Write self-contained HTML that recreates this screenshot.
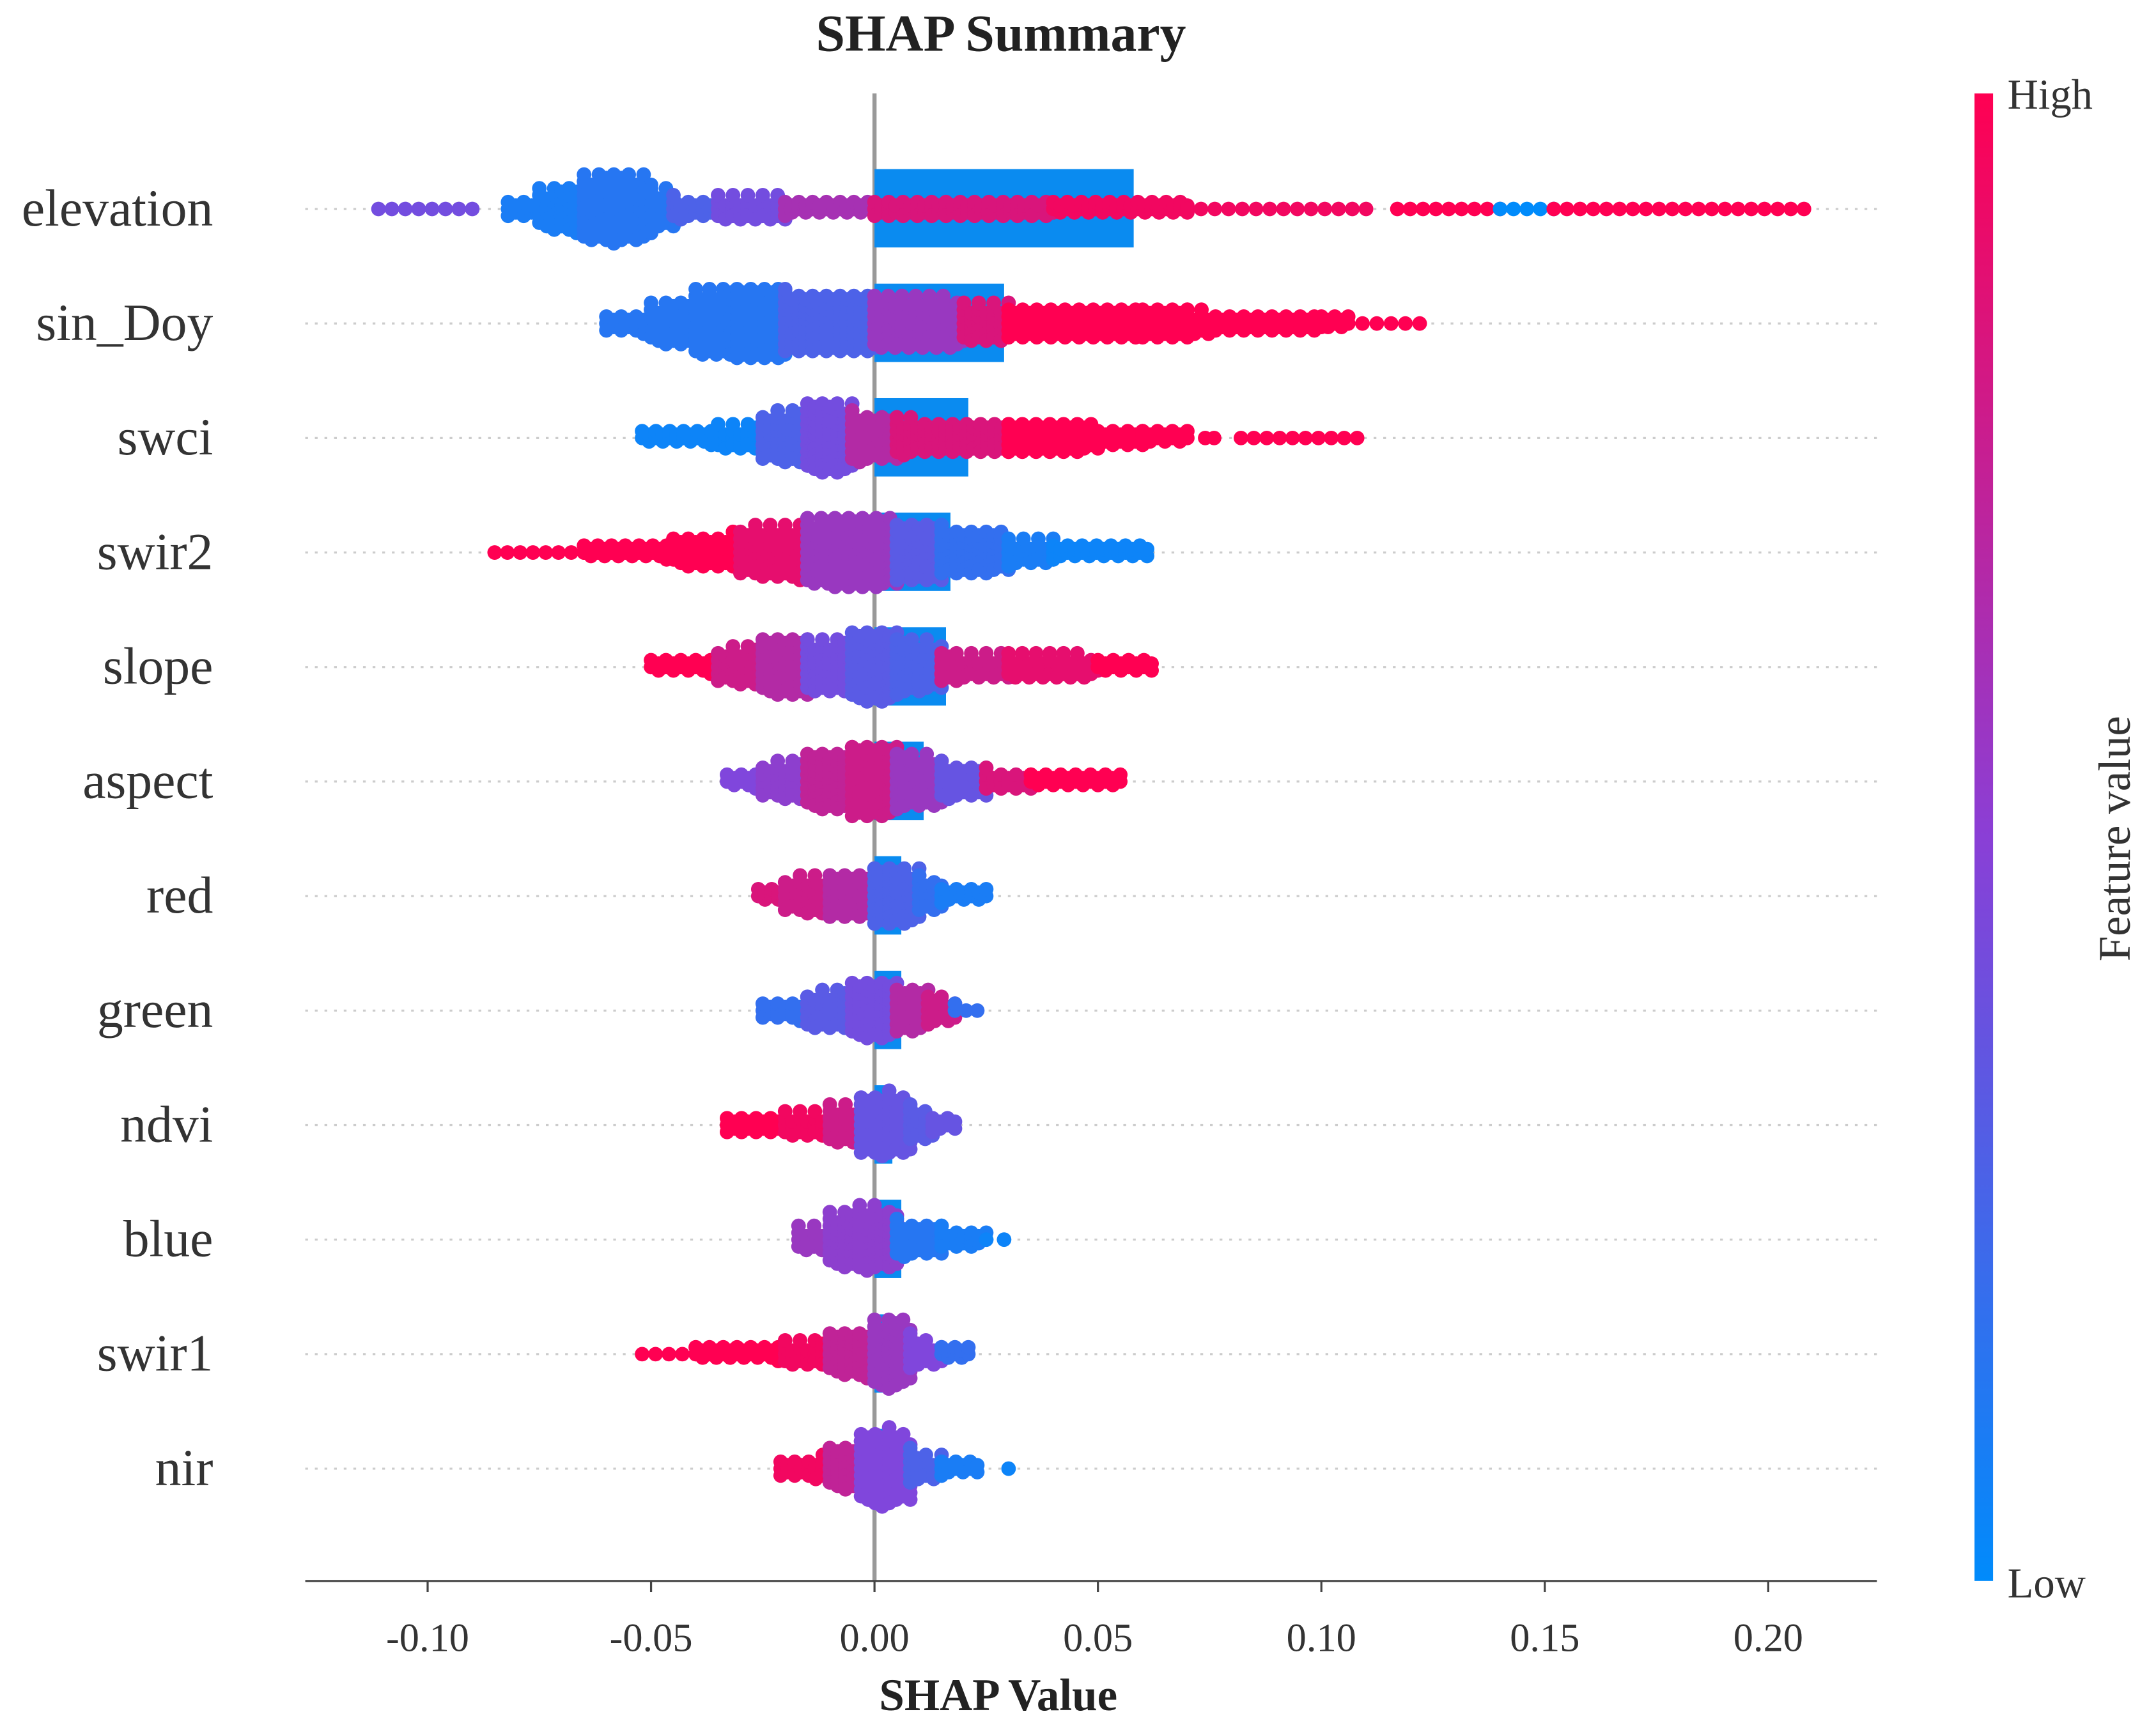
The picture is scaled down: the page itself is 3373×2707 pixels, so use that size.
<!DOCTYPE html>
<html><head><meta charset="utf-8"><style>
html,body{margin:0;padding:0;background:#fff;}
svg{display:block;}
text{font-family:"Liberation Serif",serif;fill:#333;}
</style></head><body>
<svg id="chart" width="3373" height="2707" viewBox="0 0 1568 1258.4" preserveAspectRatio="none" xmlns="http://www.w3.org/2000/svg">
<defs>
<linearGradient id="cbar" x1="0" y1="1" x2="0" y2="0">
<stop offset="0" stop-color="#008bfb"/>
<stop offset="0.5" stop-color="#8a3fd6"/>
<stop offset="1" stop-color="#ff0052"/>
</linearGradient>
</defs>
<text x="728" y="37" text-anchor="middle" font-size="38" font-weight="bold" style="fill:#222">SHAP Summary</text>
<g id="grid"></g>
<line x1="636" y1="68" x2="636" y2="1150" stroke="#999" stroke-width="3"/>
<g id="bars"></g>
<g id="dots"></g>
<g id="axis"></g>
<rect x="1436" y="68" width="13.5" height="1082" fill="url(#cbar)"/>
<text x="1460" y="79" font-size="31">High</text>
<text x="1460" y="1162" font-size="31">Low</text>
<text transform="translate(1549,610) rotate(-90)" text-anchor="middle" font-size="33">Feature value</text>
<text x="726" y="1244" text-anchor="middle" font-size="33" font-weight="bold" style="fill:#222">SHAP Value</text>
</svg>
<script>
const features = ["elevation","sin_Doy","swci","swir2","slope","aspect","red","green","ndvi","blue","swir1","nir"];
const meanAbs = [0.058,0.029,0.021,0.017,0.016,0.011,0.006,0.006,0.004,0.006,0.003,0.003];
const xTicks = [-0.10,-0.05,0.00,0.05,0.10,0.15,0.20];
const xTickLabels = ["-0.10","-0.05","0.00","0.05","0.10","0.15","0.20"];
// per-feature swarm segments: [from, to, layers, featureValue(0=low,1=high)]
const segElevation = [[-0.111,-0.090,1,0.45],[-0.082,-0.075,3,0.1],[-0.075,-0.065,7,0.1],[-0.065,-0.050,11,0.15],[-0.050,-0.045,6,0.15],[-0.045,-0.035,3,0.3],[-0.035,-0.020,4,0.45],[-0.020,0.000,2,0.65],[0.000,0.040,3,0.85],[0.040,0.070,2,0.95],[0.070,0.110,1,0.95],[0.117,0.140,1,1.0],[0.140,0.152,1,0.0],[0.152,0.208,1,1.0]];
const segSinDoy = [[-0.060,-0.050,3,0.15],[-0.050,-0.040,7,0.15],[-0.040,-0.020,11,0.15],[-0.020,0.000,9,0.3],[0.000,0.020,8,0.6],[0.020,0.030,6,0.85],[0.030,0.060,5,1.0],[0.060,0.070,5,1.0],[0.070,0.100,3,1.0],[0.100,0.106,2,1.0],[0.106,0.122,1,1.0]];
const segSwci = [[-0.052,-0.035,2,0.05],[-0.035,-0.025,4,0.05],[-0.025,-0.015,8,0.3],[-0.015,-0.005,11,0.45],[-0.005,0.005,7,0.7],[0.005,0.030,5,0.85],[0.030,0.050,5,1.0],[0.050,0.060,3,1.0],[0.060,0.070,2,1.0],[0.074,0.076,1,1.0],[0.082,0.108,1,1.0]];
const segSwir2 = [[-0.085,-0.065,1,1.0],[-0.065,-0.045,2,1.0],[-0.045,-0.030,5,1.0],[-0.030,-0.015,8,0.9],[-0.015,0.005,11,0.6],[0.005,0.015,9,0.35],[0.015,0.030,7,0.2],[0.030,0.040,4,0.1],[0.040,0.061,2,0.05]];
const segSlope = [[-0.050,-0.035,2,1.0],[-0.035,-0.025,6,0.8],[-0.025,-0.015,9,0.7],[-0.015,-0.005,8,0.45],[-0.005,0.005,11,0.35],[0.005,0.015,8,0.3],[0.015,0.030,4,0.8],[0.030,0.050,4,0.9],[0.050,0.062,2,1.0]];
const segAspect = [[-0.033,-0.025,2,0.5],[-0.025,-0.015,6,0.55],[-0.015,-0.005,9,0.75],[-0.005,0.005,11,0.8],[0.005,0.015,8,0.6],[0.015,0.025,5,0.4],[0.025,0.035,3,0.85],[0.035,0.055,2,1.0]];
const segRed = [[-0.026,-0.020,2,0.85],[-0.020,-0.010,6,0.8],[-0.010,0.000,7,0.7],[0.000,0.010,9,0.3],[0.010,0.015,5,0.2],[0.015,0.025,2,0.1]];
const segGreen = [[-0.025,-0.015,3,0.2],[-0.015,-0.005,6,0.35],[-0.005,0.005,9,0.45],[0.005,0.012,7,0.7],[0.012,0.018,4,0.8],[0.018,0.023,1,0.2]];
const segNdvi = [[-0.033,-0.020,3,1.0],[-0.020,-0.010,4,0.95],[-0.010,-0.003,6,0.8],[-0.003,0.008,10,0.4],[0.008,0.013,5,0.35],[0.013,0.018,2,0.4]];
const segBlue = [[-0.017,-0.010,4,0.6],[-0.010,0.005,10,0.55],[0.005,0.015,5,0.15],[0.015,0.025,3,0.1],[0.025,0.029,1,0.05]];
const segSwir1 = [[-0.052,-0.040,1,1.0],[-0.040,-0.020,2,1.0],[-0.020,-0.010,4,0.95],[-0.010,0.000,7,0.75],[0.000,0.008,11,0.6],[0.008,0.015,4,0.5],[0.015,0.021,2,0.2]];
const segNir = [[-0.021,-0.010,3,0.95],[-0.010,-0.003,7,0.75],[-0.003,0.008,12,0.5],[0.008,0.015,4,0.3],[0.015,0.023,2,0.1],[0.030,0.030,1,0.05]];
const segments = [segElevation,segSinDoy,segSwci,segSwir2,segSlope,segAspect,segRed,segGreen,segNdvi,segBlue,segSwir1,segNir];

const NS = "http://www.w3.org/2000/svg";
const X0 = 636, PX_PER_UNIT = 3250;
const xScale = v => X0 + v * PX_PER_UNIT;
const yScale = i => 152 + i * 83.3;
function colorOf(t){
  const a=[0,139,251], m=[128,70,220], b=[255,0,82];
  let c;
  if(t<0.5){const u=t/0.5;c=a.map((v,k)=>v+(m[k]-v)*u);}else{const u=(t-0.5)/0.5;c=m.map((v,k)=>v+(b[k]-v)*u);}
  return "rgb("+c.map(Math.round).join(",")+")";
}
function mk(tag, attrs, parent){
  const el=document.createElementNS(NS,tag);
  for(const k in attrs) el.setAttribute(k,attrs[k]);
  parent.appendChild(el); return el;
}
// smooth the swarm outline between adjacent contiguous segments
function layersAt(segs, j, v){
  const s=segs[j], c=(s[0]+s[1])/2;
  let k = v<c ? j-1 : j+1;
  if(k<0||k>=segs.length) return s[2];
  const t=segs[k], tc=(t[0]+t[1])/2;
  const gap = v<c ? s[0]-t[1] : t[0]-s[1];
  if(gap>0.003) return s[2];
  const u=(v-c)/(tc-c);
  return s[2]+(t[2]-s[2])*u*0.5;
}
const grid=document.getElementById("grid"), bars=document.getElementById("bars"), dots=document.getElementById("dots"), axis=document.getElementById("axis");
const svg=document.getElementById("chart");
features.forEach((f,i)=>{
  const y=yScale(i);
  const gl=mk("line",{x1:222,x2:1365,y1:y,y2:y,stroke:"#ccc","stroke-width":1.5,"stroke-dasharray":"2 5"},grid);
  
  
  const lab=mk("text",{x:155,y:y+12,"text-anchor":"end","font-size":38},svg);
  lab.textContent=f;
  
  
  const bar=mk("rect",{x:xScale(0),y:y-29,width:xScale(meanAbs[i])-xScale(0),height:57,fill:"#0a8bf0"},bars);
  
  
  const g=mk("g",{},dots);
  
  
  const segs=segments[i];
  segs.forEach((s,j)=>{
    const [a,b,n,cv]=s;
    const sparse = n===1;
    const step = sparse ? 0.0030 : 0.0016;
    const cols=Math.max(1,Math.round((b-a)/step)+1);
    for(let c=0;c<cols;c++){
      const v = cols===1 ? (a+b)/2 : a+(b-a)*c/(cols-1);
      let nn = Math.max(1, Math.round(layersAt(segs,j,v)));
      if(c%2===1 && nn>2) nn-=1;
      const shift = (c%2===1) ? 2.5 : 0;
      for(let k=0;k<nn;k++){
        const off = (k===0?0:(k%2? -1:1)*Math.ceil(k/2)*5) + (nn>1?shift:0);
        const d=mk("circle",{cx:xScale(v),cy:y+off,r:5.3,fill:colorOf(cv)},g);
        
        
      }
    }
  });
});
const ax=mk("line",{x1:222,x2:1365,y1:1150,y2:1150,stroke:"#444","stroke-width":1.5},axis);


xTicks.forEach((t,j)=>{
  const x=xScale(t);
  const tk=mk("line",{x1:x,x2:x,y1:1150,y2:1158,stroke:"#444","stroke-width":1.5},axis);
  
  
  const tl=mk("text",{x:x,y:1201,"text-anchor":"middle","font-size":29},axis);
  tl.textContent=xTickLabels[j];
  
  
});
</script>
</body></html>
